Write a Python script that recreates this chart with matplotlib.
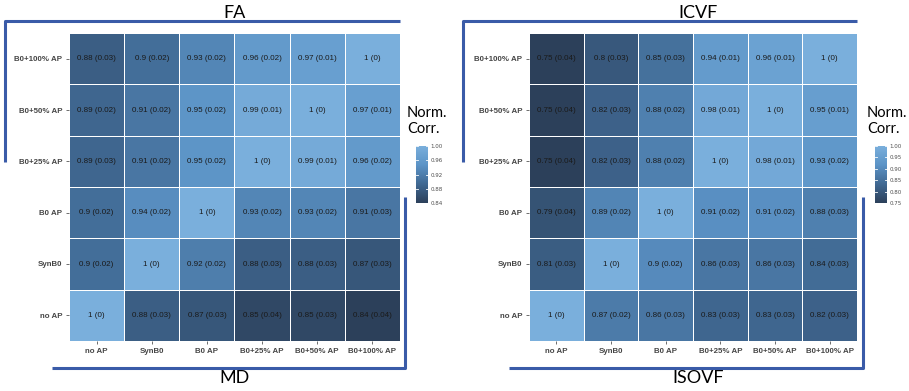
import matplotlib
matplotlib.use("Agg")
import matplotlib.pyplot as plt
import numpy as np
from matplotlib.colors import LinearSegmentedColormap, Normalize
from matplotlib.lines import Line2D

# Pipeline labels (rows bottom -> top, columns left -> right)
labels = ["no AP", "SynB0", "B0 AP", "B0+25% AP", "B0+50% AP", "B0+100% AP"]

# FA (upper) / MD (lower) normalized correlation: mean and SD
fa_md_mean = [
    [1.00, 0.88, 0.87, 0.85, 0.85, 0.84],
    [0.90, 1.00, 0.92, 0.88, 0.88, 0.87],
    [0.90, 0.94, 1.00, 0.93, 0.93, 0.91],
    [0.89, 0.91, 0.95, 1.00, 0.99, 0.96],
    [0.89, 0.91, 0.95, 0.99, 1.00, 0.97],
    [0.88, 0.90, 0.93, 0.96, 0.97, 1.00],
]
fa_md_sd = [
    [0.00, 0.03, 0.03, 0.04, 0.03, 0.04],
    [0.02, 0.00, 0.02, 0.03, 0.03, 0.03],
    [0.02, 0.02, 0.00, 0.02, 0.02, 0.03],
    [0.03, 0.02, 0.02, 0.00, 0.01, 0.02],
    [0.02, 0.02, 0.02, 0.01, 0.00, 0.01],
    [0.03, 0.02, 0.02, 0.02, 0.01, 0.00],
]
fa_md_ticks = [0.84, 0.88, 0.92, 0.96, 1.00]

# ICVF (upper) / ISOVF (lower) normalized correlation: mean and SD
icvf_isovf_mean = [
    [1.00, 0.87, 0.86, 0.83, 0.83, 0.82],
    [0.81, 1.00, 0.90, 0.86, 0.86, 0.84],
    [0.79, 0.89, 1.00, 0.91, 0.91, 0.88],
    [0.75, 0.82, 0.88, 1.00, 0.98, 0.93],
    [0.75, 0.82, 0.88, 0.98, 1.00, 0.95],
    [0.75, 0.80, 0.85, 0.94, 0.96, 1.00],
]
icvf_isovf_sd = [
    [0.00, 0.02, 0.03, 0.03, 0.03, 0.03],
    [0.03, 0.00, 0.02, 0.03, 0.03, 0.03],
    [0.04, 0.02, 0.00, 0.02, 0.02, 0.03],
    [0.04, 0.03, 0.02, 0.00, 0.01, 0.02],
    [0.04, 0.03, 0.02, 0.01, 0.00, 0.01],
    [0.04, 0.03, 0.03, 0.01, 0.01, 0.00],
]
icvf_isovf_ticks = [0.75, 0.80, 0.85, 0.90, 0.95, 1.00]

W, H = 909, 391
fig = plt.figure(figsize=(W / 100, H / 100), dpi=100)
fig.patch.set_facecolor("white")

cmap = LinearSegmentedColormap.from_list(
    "normcorr", ["#2c405a", "#406892", "#5b93c6", "#7aafdc"])

BRACKET = "#3a5ba8"
TITLE_FONT = ["Lato", "DejaVu Sans"]
TICK_FONT = ["Liberation Sans", "DejaVu Sans"]


def px_axes(x0, y0, x1, y1):
    return fig.add_axes([x0 / W, 1 - y1 / H, (x1 - x0) / W, (y1 - y0) / H])


def fig_line(xs, ys):
    fig.add_artist(Line2D([x / W for x in xs], [1 - y / H for y in ys],
                          color=BRACKET, lw=2.2, solid_capstyle="butt",
                          transform=fig.transFigure))


def panel(grid, cbar, mean, sd, ticks, top_title, bottom_title, title_x,
          top_bracket, bottom_bracket, legend_xy):
    mean = np.asarray(mean)
    sd = np.asarray(sd)
    n = len(labels)
    norm = Normalize(vmin=min(ticks), vmax=max(ticks))
    ax = px_axes(*grid)
    mesh = ax.pcolormesh(np.arange(n + 1), np.arange(n + 1), mean, cmap=cmap,
                         norm=norm, edgecolors="white", linewidth=0.6)
    for i in range(n):
        for j in range(n):
            ax.text(j + 0.5, i + 0.5, f"{mean[i, j]:g} ({sd[i, j]:g})",
                    ha="center", va="center", fontsize=5.8,
                    family=TICK_FONT, color="#1a1a1a")
    ax.set_xlim(0, n)
    ax.set_ylim(0, n)
    ax.set_xticks(np.arange(n) + 0.5)
    ax.set_yticks(np.arange(n) + 0.5)
    ax.set_xticklabels(labels, fontsize=5.7, fontweight="bold",
                       family=TICK_FONT, color="#454545")
    ax.set_yticklabels(labels, fontsize=5.7, fontweight="bold",
                       family=TICK_FONT, color="#454545")
    ax.tick_params(length=2, width=0.6, color="#555555", pad=3)
    for s in ax.spines.values():
        s.set_visible(False)

    # colour bar legend
    cax = px_axes(*cbar)
    cb = fig.colorbar(mesh, cax=cax, ticks=ticks)
    cb.outline.set_visible(False)
    cb.ax.set_yticklabels([f"{t:.2f}" for t in ticks])
    cb.ax.tick_params(labelsize=4, colors="#4d4d4d", length=0, pad=2)
    for t in ticks:
        cax.plot([0, 0.2], [t, t], color="white", lw=0.6,
                 transform=cax.get_yaxis_transform())
        cax.plot([0.8, 1], [t, t], color="white", lw=0.6,
                 transform=cax.get_yaxis_transform())
    lx, ly = legend_xy
    fig.text(lx / W, 1 - ly / H, "Norm.\nCorr.", fontsize=10.5,
             family=TITLE_FONT, ha="left", va="top", linespacing=1.2)

    # titles
    fig.text(title_x / W, 1 - 13 / H, top_title, fontsize=13,
             family=TITLE_FONT, ha="center", va="center")
    fig.text(title_x / W, 1 - 378 / H, bottom_title, fontsize=13,
             family=TITLE_FONT, ha="center", va="center")

    # brackets marking which triangle belongs to which metric
    tx0, tx1, ty, tybot = top_bracket
    fig_line([tx1, tx0, tx0], [ty, ty, tybot])
    bx0, bx1, by, bytop = bottom_bracket
    fig_line([bx0, bx1, bx1], [by, by, bytop])


panel((69, 33, 400, 341), (416, 146, 428, 203), fa_md_mean, fa_md_sd,
      fa_md_ticks, "FA", "MD", 235,
      (5, 400, 21, 162), (52, 405, 368, 197), (407, 106))

panel((529, 33, 857, 341), (875, 146, 887, 203), icvf_isovf_mean,
      icvf_isovf_sd, icvf_isovf_ticks, "ICVF", "ISOVF", 698,
      (463, 857, 21, 162), (509, 863, 368, 197), (867, 106))

fig.savefig("out.png", dpi=100, facecolor="white")
